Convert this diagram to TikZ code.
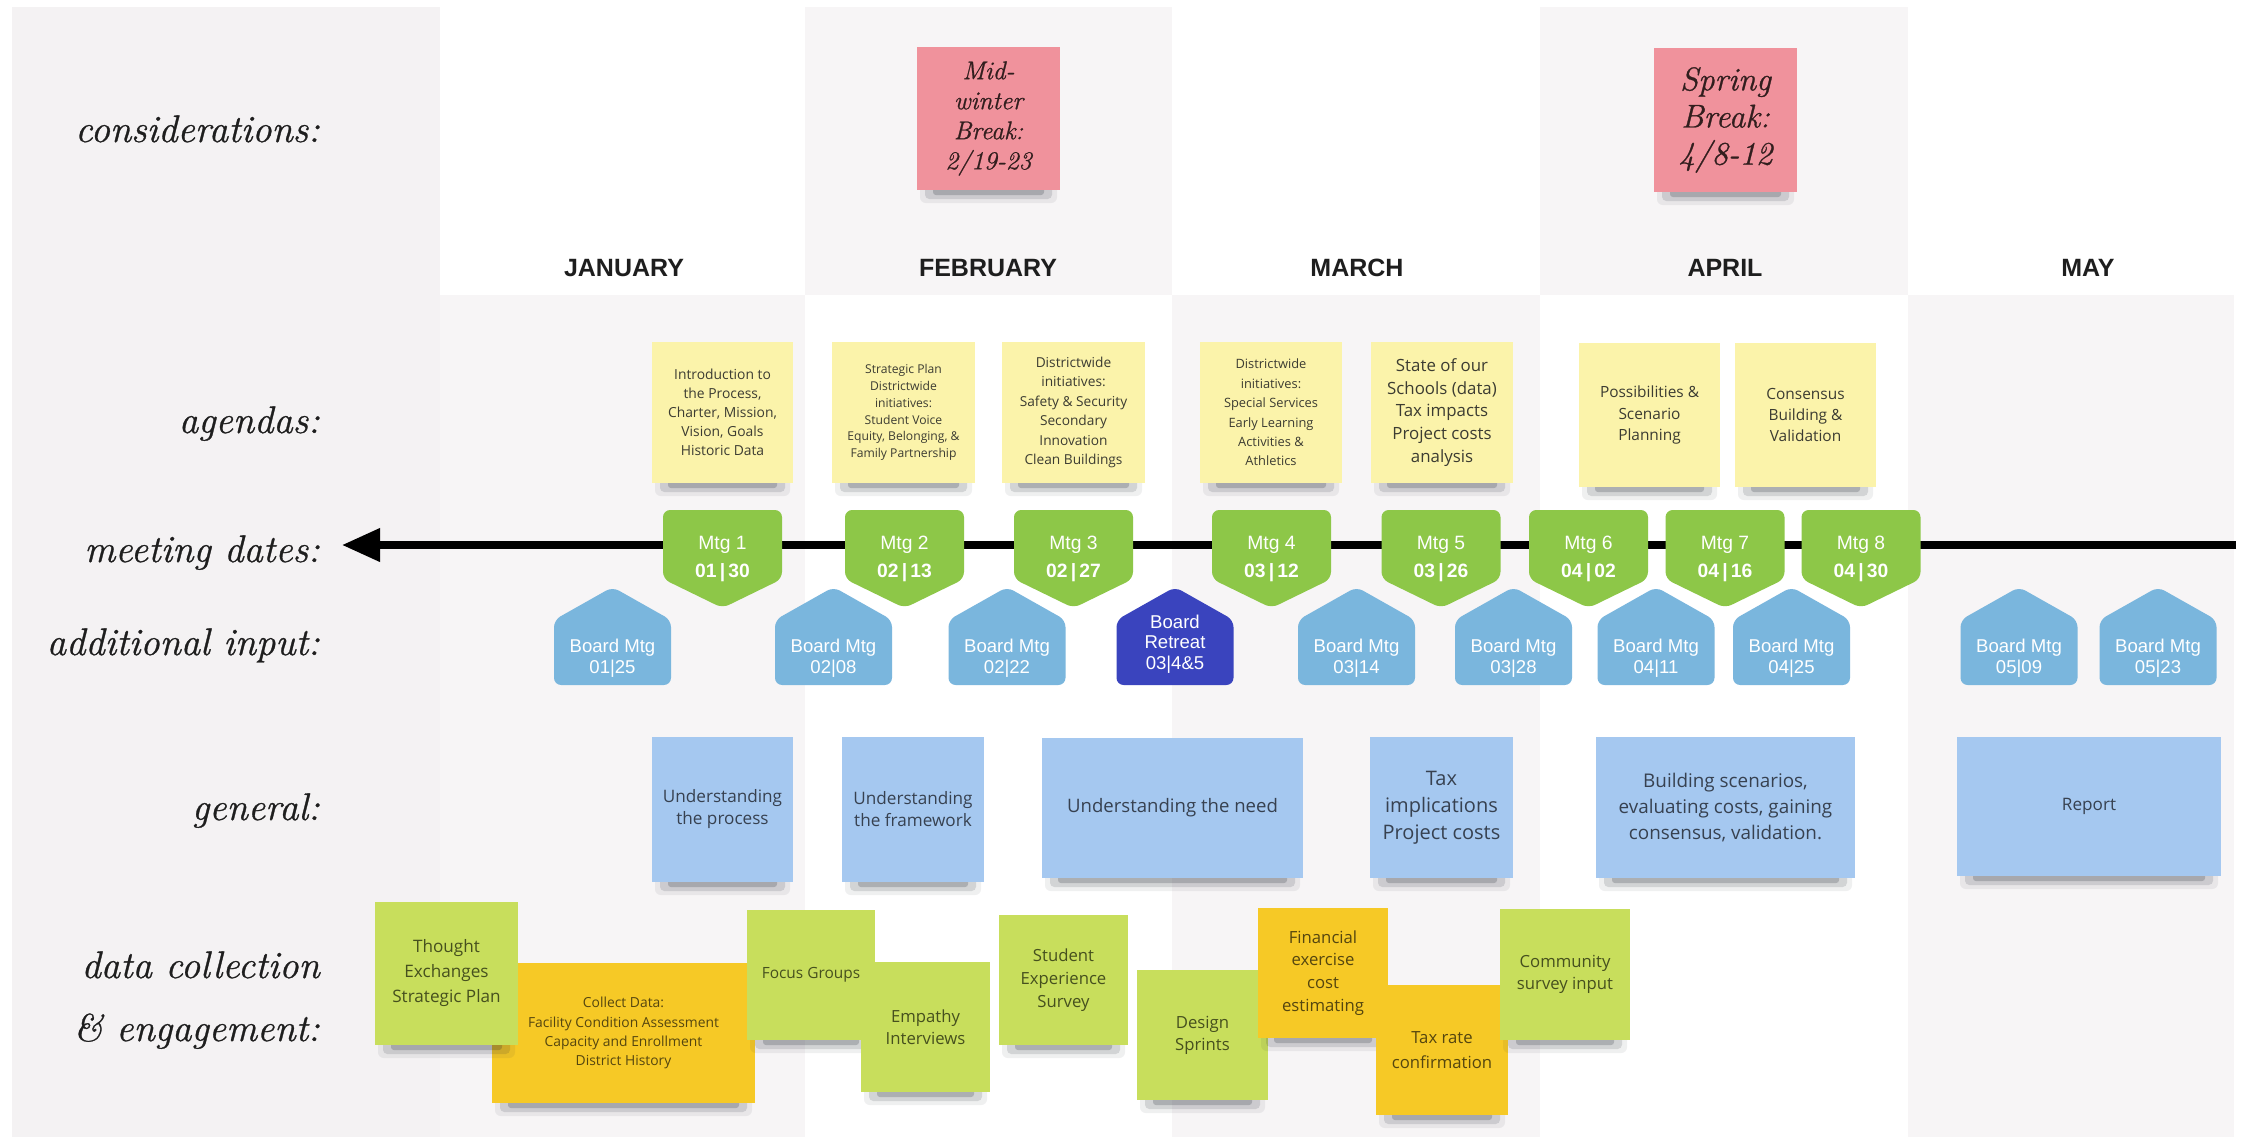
\documentclass[tikz,border=0pt]{standalone}
\usepackage{fontspec}
\usetikzlibrary{arrows.meta}
\newfontfamily\notefont{Open Sans}
\newfontfamily\arialf{Liberation Sans}
\newfontfamily\handf{Latin Modern Roman}[FakeBold=0.8]
\definecolor{agendaY}{RGB}{251,243,170}
\definecolor{agendaT}{RGB}{60,60,50}
\definecolor{genB}{RGB}{165,200,240}
\definecolor{genT}{RGB}{55,65,80}
\definecolor{limeC}{RGB}{200,222,92}
\definecolor{limeT}{RGB}{70,80,30}
\definecolor{amberC}{RGB}{246,201,38}
\definecolor{amberT}{RGB}{85,70,15}
\definecolor{pinkC}{RGB}{240,146,156}
\definecolor{pinkT}{RGB}{50,30,30}
\definecolor{mtgG}{RGB}{141,199,72}
\definecolor{boardB}{RGB}{122,182,221}
\definecolor{retreatB}{RGB}{58,68,190}
\definecolor{bgL}{RGB}{244,242,243}
\definecolor{bgC}{RGB}{247,245,246}
\definecolor{labelT}{RGB}{30,30,30}
\definecolor{shadowC}{RGB}{40,45,55}

\newcommand\stickynote[7]{%
  \fill[shadowC,opacity=0.07,rounded corners=4pt] ({#3+3},{#6-6}) rectangle ({#5-3},{#6+13});
  \fill[shadowC,opacity=0.14,rounded corners=3pt] ({#3+8},{#6-6}) rectangle ({#5-8},{#6+9});
  \fill[shadowC,opacity=0.22,rounded corners=2pt] ({#3+16},{#6-6}) rectangle ({#5-16},{#6+5});
  \node[#2, minimum width={(#5-#3)*0.7pt}, minimum height={(#6-#4)*0.7pt}] (#1) at ({(#3+#5)/2},{(#4+#6)/2}) {#7};
}
\newcommand\mtgbox[4]{%
  \fill[mtgG, rounded corners=5pt] ({#2-59.5},510) -- ({#2+59.5},510) -- ({#2+59.5},579) -- (#2,608) -- ({#2-59.5},579) -- cycle;
  \node[mtgtext] (#1) at (#2,559) {#3\\\textbf{#4}};
}
\newcommand\boardbox[5]{%
  \fill[#3, rounded corners=5pt] ({#2-58.5},685) -- ({#2-58.5},620) -- (#2,587) -- ({#2+58.5},620) -- ({#2+58.5},685) -- cycle;
  \node[boardtext] (#1) at (#2,#4) {#5};
}

\tikzset{
  fsz/.style 2 args={font=\notefont\fontsize{#1}{#2}\selectfont},
  hfsz/.style 2 args={font=\handf\itshape\fontsize{#1}{#2}\selectfont},
  sticky/.style={rectangle, inner sep=0pt, outer sep=0pt, align=center},
  agenda/.style={sticky, fill=agendaY, text=agendaT},
  genbox/.style={sticky, fill=genB, text=genT},
  limenote/.style={sticky, fill=limeC, text=limeT},
  ambernote/.style={sticky, fill=amberC, text=amberT},
  pinknote/.style={sticky, fill=pinkC, text=pinkT},
  rowlabel/.style={anchor=base east, inner sep=0pt, text=labelT, font=\handf\itshape\fontsize{27}{30}\selectfont},
  month/.style={inner sep=0pt, text=labelT, font=\arialf\bfseries\fontsize{17.5}{20}\selectfont},
  mtgtext/.style={inner sep=0pt, align=center, text=white, font=\arialf\fontsize{13.5}{19.6}\selectfont},
  boardtext/.style={inner sep=0pt, align=center, text=white, font=\arialf\fontsize{13}{14.5}\selectfont},
}

\begin{document}
\begin{tikzpicture}[x=0.7pt, y=-0.7pt]
\useasboundingbox (0,0) rectangle (2242,1140);
% background
\fill[white] (0,0) rectangle (2242,1140);
\fill[bgL] (12,7) rectangle (440,1137);
\fill[bgC] (805,7) rectangle (1172,295);
\fill[bgC] (1540,7) rectangle (1908,295);
\fill[bgC] (440,295) rectangle (805,1137);
\fill[bgC] (1172,295) rectangle (1540,1137);
\fill[bgC] (1908,295) rectangle (2234,1137);

% row labels
\node[rowlabel] (lcons) at (320,142) {considerations:};
\node[rowlabel] (lagen) at (320,433) {agendas:};
\node[rowlabel] (lmeet) at (320,562) {meeting dates:};
\node[rowlabel] (ladd) at (320,655) {additional input:};
\node[rowlabel] (lgen) at (320,820) {general:};
\node[rowlabel] (ldata1) at (320,978) {data collection};
\node[rowlabel] (ldata2) at (320,1041) {\& engagement:};

% months
\node[month] (jan) at (624,268) {JANUARY};
\node[month] (feb) at (988,268) {FEBRUARY};
\node[month] (mar) at (1357,268) {MARCH};
\node[month] (apr) at (1725,268) {APRIL};
\node[month] (may) at (2088,268) {MAY};

% considerations
\stickynote{brk1}{pinknote,hfsz={18}{21}}{917}{47}{1060}{190}{Mid-\\winter\\Break:\\2/19-23}
\stickynote{brk2}{pinknote,hfsz={23}{26}}{1654}{48}{1797}{192}{Spring\\Break:\\4/8-12}

% agendas
\stickynote{ag1}{agenda,fsz={9.7}{13.4}}{652}{342}{793}{483}{Introduction to\\the Process,\\Charter, Mission,\\Vision, Goals\\Historic Data}
\stickynote{ag2}{agenda,fsz={8.5}{11.7}}{832}{342}{975}{483}{Strategic Plan\\Districtwide\\initiatives:\\Student Voice\\Equity, Belonging, \&\\Family Partnership}
\stickynote{ag3}{agenda,fsz={9.6}{13.6}}{1002}{342}{1145}{483}{Districtwide\\initiatives:\\Safety \& Security\\Secondary\\Innovation\\Clean Buildings}
\stickynote{ag4}{agenda,fsz={9}{13.6}}{1200}{342}{1342}{483}{Districtwide\\initiatives:\\Special Services\\Early Learning\\Activities \&\\Athletics}
\stickynote{ag5}{agenda,fsz={11.8}{15.8}}{1371}{342}{1513}{483}{State of our\\Schools (data)\\Tax impacts\\Project costs\\analysis}
\stickynote{ag6}{agenda,fsz={10.8}{15}}{1579}{343}{1720}{487}{Possibilities \&\\Scenario\\Planning}
\stickynote{ag7}{agenda,fsz={10.8}{15}}{1735}{343}{1876}{487}{Consensus\\Building \&\\Validation}

% timeline
\coordinate (tlR) at (2236,545);
\coordinate (tlL) at (342,545);
\draw[line width=5pt, -{Triangle[length=26.6pt,width=22.4pt]}] (tlR) -- (tlL);

% meetings
\mtgbox{m1}{722.5}{Mtg 1}{01\,|\,30}
\mtgbox{m2}{904.5}{Mtg 2}{02\,|\,13}
\mtgbox{m3}{1073.5}{Mtg 3}{02\,|\,27}
\mtgbox{m4}{1271.5}{Mtg 4}{03\,|\,12}
\mtgbox{m5}{1441}{Mtg 5}{03\,|\,26}
\mtgbox{m6}{1588.5}{Mtg 6}{04\,|\,02}
\mtgbox{m7}{1725}{Mtg 7}{04\,|\,16}
\mtgbox{m8}{1861}{Mtg 8}{04\,|\,30}

% additional input
\boardbox{b1}{612.5}{boardB}{658}{Board Mtg\\01|25}
\boardbox{b2}{833.5}{boardB}{658}{Board Mtg\\02|08}
\boardbox{b3}{1007}{boardB}{658}{Board Mtg\\02|22}
\boardbox{b4}{1175}{retreatB}{644}{Board\\Retreat\\03|4\&5}
\boardbox{b5}{1356.5}{boardB}{658}{Board Mtg\\03|14}
\boardbox{b6}{1513.5}{boardB}{658}{Board Mtg\\03|28}
\boardbox{b7}{1656}{boardB}{658}{Board Mtg\\04|11}
\boardbox{b8}{1791.5}{boardB}{658}{Board Mtg\\04|25}
\boardbox{b9}{2019}{boardB}{658}{Board Mtg\\05|09}
\boardbox{b10}{2158}{boardB}{658}{Board Mtg\\05|23}

% general
\stickynote{gen1}{genbox,fsz={12}{15.4}}{652}{737}{793}{882}{Understanding\\the process}
\stickynote{gen2}{genbox,fsz={12}{15.4}}{842}{737}{984}{882}{Understanding\\the framework}
\stickynote{gen3}{genbox,fsz={13}{17}}{1042}{738}{1303}{878}{Understanding the need}
\stickynote{gen4}{genbox,fsz={14}{19}}{1370}{737}{1513}{878}{Tax\\implications\\Project costs}
\stickynote{gen5}{genbox,fsz={13.2}{18.5}}{1596}{737}{1855}{878}{Building scenarios,\\evaluating costs, gaining\\consensus, validation.}
\stickynote{gen6}{genbox,fsz={12}{15}}{1957}{737}{2221}{876}{Report}

% data collection & engagement
\stickynote{d2}{ambernote,fsz={9.7}{13.4}}{492}{963}{755}{1103}{Collect Data:\\Facility Condition Assessment\\Capacity and Enrollment\\District History}
\stickynote{d1}{limenote,fsz={12}{17.5}}{375}{902}{518}{1045}{Thought\\Exchanges\\Strategic Plan}
\stickynote{d3}{limenote,fsz={10.8}{16}}{747}{910}{875}{1040}{Focus Groups}
\stickynote{d4}{limenote,fsz={11.7}{15.4}}{861}{962}{990}{1092}{Empathy\\Interviews}
\stickynote{d5}{limenote,fsz={11.7}{16}}{999}{915}{1128}{1045}{Student\\Experience\\Survey}
\stickynote{d6}{limenote,fsz={11.7}{15.4}}{1137}{970}{1268}{1100}{Design\\Sprints}
\stickynote{d7}{ambernote,fsz={11.7}{16}}{1258}{908}{1388}{1038}{Financial\\exercise\\cost\\estimating}
\stickynote{d8}{ambernote,fsz={11.7}{17}}{1376}{985}{1508}{1115}{Tax rate\\confirmation}
\stickynote{d9}{limenote,fsz={11.7}{15.4}}{1500}{909}{1630}{1040}{Community\\survey input}
\end{tikzpicture}
\end{document}
